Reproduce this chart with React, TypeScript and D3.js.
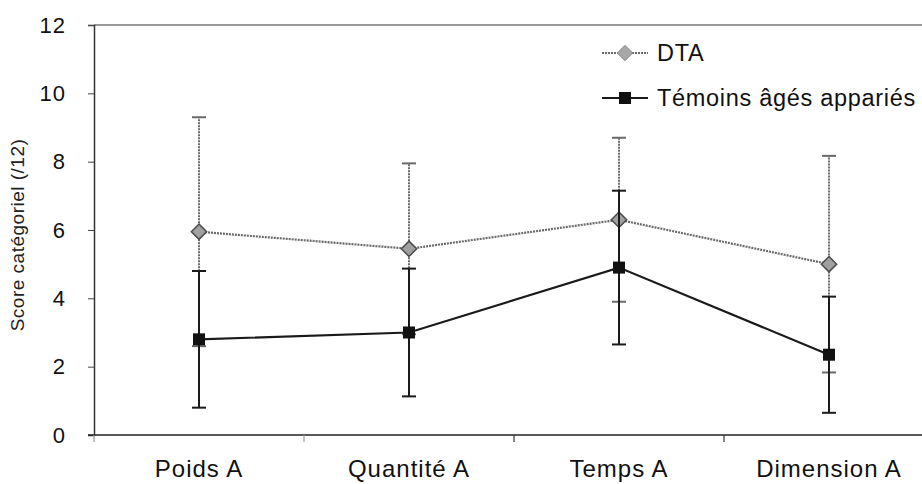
import * as d3 from 'd3';
import { useEffect, useRef } from 'react';

const categories = ['Poids A', 'Quantité A', 'Temps A', 'Dimension A'];
const dtaMeans = [5.95, 5.45, 6.3, 5.0];
const dtaErrors = [3.35, 2.5, 2.4, 3.17];
const temoinsMeans = [2.8, 3.0, 4.9, 2.35];
const temoinsErrors = [2.0, 1.87, 2.25, 1.7];
const yTicks = [0, 2, 4, 6, 8, 10, 12];
const seriesNames = ['DTA', 'Témoins âgés appariés'];

export default function App() {
    const svgRef = useRef<SVGSVGElement>(null);

    useEffect(() => {
        if (!svgRef.current) return;
        const svg = d3.select(svgRef.current);
        svg.selectAll('*').remove();

        const width = 922;
        const height = 484;
        const left = 94;
        const top = 25;
        const bottom = 435;
        const font = 'Arial, "Liberation Sans", sans-serif';

        const x = d3.scaleBand().domain(categories).range([left, left + 210 * 4]);
        const y = d3.scaleLinear().domain([0, 12]).range([bottom, top]);
        const cx = (c: string) => (x(c) as number) + x.bandwidth() / 2;

        svg.attr('width', width).attr('height', height);
        svg.append('rect').attr('width', width).attr('height', height).attr('fill', 'white');

        // top border
        svg.append('line')
            .attr('x1', left).attr('x2', width)
            .attr('y1', y(12)).attr('y2', y(12))
            .attr('stroke', '#777').attr('stroke-width', 1.5);

        // y axis
        const yAxis = svg.append('g')
            .attr('transform', `translate(${left},0)`)
            .call(d3.axisLeft(y).tickValues(yTicks).tickSize(6).tickPadding(22).tickFormat(d3.format('d')));
        yAxis.select('.domain').attr('stroke', '#333').attr('stroke-width', 1.5);
        yAxis.selectAll('.tick line').attr('stroke', '#444');
        yAxis.selectAll('.tick text')
            .attr('font-family', font).attr('font-size', 22).attr('letter-spacing', 1).attr('fill', '#111');

        // x axis
        svg.append('line')
            .attr('x1', left - 6).attr('x2', width)
            .attr('y1', bottom).attr('y2', bottom)
            .attr('stroke', '#222').attr('stroke-width', 1.5);
        svg.append('g').selectAll('line')
            .data(categories)
            .enter().append('line')
            .attr('x1', d => x(d) as number).attr('x2', d => x(d) as number)
            .attr('y1', bottom).attr('y2', bottom + 7)
            .attr('stroke', (d, i) => (i < 2 ? '#999' : '#333'))
            .attr('stroke-width', 1.2);
        svg.append('g').selectAll('text')
            .data(categories)
            .enter().append('text')
            .attr('x', d => cx(d))
            .attr('y', 477)
            .attr('text-anchor', 'middle')
            .attr('font-family', font).attr('font-size', 24).attr('letter-spacing', 1).attr('fill', '#111')
            .text(d => d);

        // y title
        svg.append('text')
            .attr('transform', `translate(24,${(top + bottom) / 2 + 5}) rotate(-90)`)
            .attr('text-anchor', 'middle')
            .attr('font-family', font).attr('font-size', 19).attr('letter-spacing', 0.5).attr('fill', '#222')
            .text('Score catégoriel (/12)');

        const drawSeries = (means: number[], errs: number[], color: string, dash: string | null, lw: number) => {
            const g = svg.append('g');
            const pts = categories.map((c, i) => ({ c, m: means[i], e: errs[i] }));
            const bars = g.selectAll('.err').data(pts).enter().append('g');
            bars.append('line')
                .attr('x1', d => cx(d.c)).attr('x2', d => cx(d.c))
                .attr('y1', d => y(d.m - d.e)).attr('y2', d => y(d.m + d.e))
                .attr('stroke', color).attr('stroke-width', 2)
                .attr('stroke-dasharray', dash);
            [-1, 1].forEach(s => {
                bars.append('line')
                    .attr('x1', d => cx(d.c) - 7).attr('x2', d => cx(d.c) + 7)
                    .attr('y1', d => y(d.m + s * d.e)).attr('y2', d => y(d.m + s * d.e))
                    .attr('stroke', color).attr('stroke-width', 2);
            });
            const line = d3.line<{ c: string; m: number }>().x(d => cx(d.c)).y(d => y(d.m));
            g.append('path')
                .attr('d', line(pts))
                .attr('fill', 'none')
                .attr('stroke', color).attr('stroke-width', lw)
                .attr('stroke-dasharray', dash);
            return { g, pts };
        };

        const dta = drawSeries(dtaMeans, dtaErrors, '#6a6a6a', '2 1', 2.2);
        dta.g.selectAll('.dia').data(dta.pts).enter().append('path')
            .attr('d', d3.symbol().type(d3.symbolDiamond2).size(150)())
            .attr('transform', d => `translate(${cx(d.c)},${y(d.m)})`)
            .attr('fill', '#a0a0a0').attr('stroke', '#4a4a4a').attr('stroke-width', 1.5);

        const tem = drawSeries(temoinsMeans, temoinsErrors, '#1a1a1a', null, 2.2);
        tem.g.selectAll('.sq').data(tem.pts).enter().append('rect')
            .attr('x', d => cx(d.c) - 6).attr('y', d => y(d.m) - 6)
            .attr('width', 12).attr('height', 12)
            .attr('fill', '#111');

        // legend
        const legend = svg.append('g');
        const rows = [
            { name: seriesNames[0], y: 53, color: '#6a6a6a', dash: '2 1' },
            { name: seriesNames[1], y: 98, color: '#1a1a1a', dash: null },
        ];
        rows.forEach((r, i) => {
            legend.append('line')
                .attr('x1', 602).attr('x2', 648).attr('y1', r.y).attr('y2', r.y)
                .attr('stroke', r.color).attr('stroke-width', 2.2)
                .attr('stroke-dasharray', r.dash);
            if (i === 0) {
                legend.append('path')
                    .attr('d', d3.symbol().type(d3.symbolDiamond2).size(150)())
                    .attr('transform', `translate(625,${r.y})`)
                    .attr('fill', '#a8a8a8').attr('stroke', '#888').attr('stroke-width', 1);
            } else {
                legend.append('rect')
                    .attr('x', 619).attr('y', r.y - 6).attr('width', 12).attr('height', 12)
                    .attr('fill', '#111');
            }
            legend.append('text')
                .attr('x', 657).attr('y', r.y + 8)
                .attr('font-family', font).attr('font-size', 23.5).attr('letter-spacing', 0.7).attr('fill', '#111')
                .text(r.name);
        });
    }, []);

    return <svg ref={svgRef} style={{ position: 'absolute', left: 0, top: 0 }} />;
}
